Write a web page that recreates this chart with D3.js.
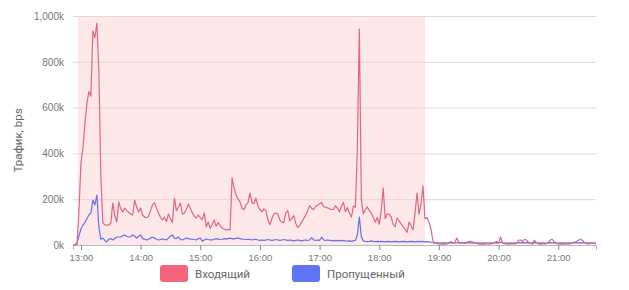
<!DOCTYPE html>
<html lang="ru">
<head>
<meta charset="UTF-8">
<script src="https://d3js.org/d3.v7.min.js"></script>
<style>
    body { margin: 0; background: #fff; }
    svg { font-family: Roboto, "Noto Sans", sans-serif; }
</style>
</head>
<body>
<div id="chart"></div>
<script>
    // series sampled every 2 minutes, starting 12:52 (values in bps)
    const startTime = "12:52";
    const stepMinutes = 2;
    const incoming = [
        0, 0, 0, 150, 358, 424, 530, 620, 670, 650, 935, 905, 969, 760, 300, 96, 88, 87, 87, 95,
        183, 130, 100, 188, 160, 144, 161, 150, 142, 135, 131, 196, 165, 144, 161, 130, 122, 119, 125, 150,
        175, 185, 160, 140, 120, 110, 122, 102, 135, 115, 98, 205, 150, 165, 183, 135, 140, 155, 178, 160,
        140, 125, 118, 131, 120, 110, 140, 80, 100, 72, 90, 109, 82, 98, 85, 74, 70, 66, 68, 66,
        293, 250, 218, 200, 188, 160, 155, 175, 185, 227, 185, 180, 205, 170, 155, 145, 158, 150, 110, 88,
        115, 135, 140, 135, 110, 100, 98, 140, 150, 105, 115, 128, 95, 76, 85, 100, 115, 130, 150, 172,
        160, 155, 168, 175, 180, 186, 168, 165, 162, 158, 155, 155, 172, 160, 145, 170, 186, 145, 164, 140,
        122, 170, 165, 420, 943, 200, 135, 155, 166, 150, 140, 120, 100, 120, 90, 150, 249, 115, 135, 135,
        122, 90, 80, 118, 105, 92, 80, 70, 55, 100, 85, 65, 140, 227, 135, 180, 258, 115, 120, 100,
        70, 18, 8, 6, 5, 4, 5, 4, 5, 8, 15, 8, 12, 30, 12, 8, 10, 6, 12, 15,
        16, 14, 10, 6, 5, 4, 5, 4, 5, 6, 5, 6, 12, 15, 8, 35, 10, 6, 5, 4,
        5, 6, 5, 6, 20, 22, 15, 25, 22, 12, 6, 5, 20, 10, 5, 4, 5, 6, 5, 10,
        22, 25, 15, 6, 5, 4, 5, 4, 5, 6, 5, 8, 12, 15, 20, 25, 22, 12, 6, 5,
        6, 10, 6, 5
    ].map(v => v * 1000);
    const passed = [
        0, 0, 10, 40, 70, 87, 98, 115, 131, 140, 196, 175, 218, 80, 25, 30, 20, 13, 25, 28,
        22, 28, 35, 35, 35, 40, 44, 38, 35, 36, 44, 40, 30, 38, 44, 28, 26, 22, 25, 30,
        35, 30, 25, 22, 24, 26, 25, 22, 30, 40, 44, 30, 28, 35, 25, 22, 26, 30, 28, 26,
        25, 24, 22, 28, 30, 17, 22, 26, 24, 22, 22, 25, 28, 26, 24, 25, 28, 26, 28, 30,
        28, 26, 30, 30, 28, 26, 25, 24, 25, 24, 22, 24, 25, 22, 20, 22, 20, 22, 24, 22,
        20, 22, 24, 22, 20, 22, 24, 22, 20, 22, 20, 18, 20, 22, 20, 18, 20, 22, 20, 22,
        32, 22, 20, 22, 20, 34, 22, 20, 22, 20, 20, 18, 20, 18, 20, 18, 20, 18, 17, 18,
        16, 18, 20, 45, 122, 35, 18, 16, 15, 16, 18, 16, 15, 16, 15, 16, 15, 14, 16, 15,
        14, 15, 16, 15, 14, 15, 16, 15, 14, 15, 16, 15, 14, 15, 16, 15, 16, 14, 15, 14,
        12, 10, 8, 10, 9, 8, 10, 9, 8, 9, 10, 9, 8, 10, 9, 8, 9, 10, 9, 10,
        9, 8, 9, 8, 9, 8, 9, 8, 9, 8, 9, 8, 9, 10, 9, 12, 9, 8, 9, 8,
        9, 8, 9, 8, 10, 9, 10, 9, 10, 9, 8, 9, 10, 9, 8, 9, 8, 9, 8, 9,
        10, 9, 10, 9, 8, 9, 8, 9, 8, 9, 8, 9, 9, 10, 9, 10, 9, 10, 9, 8,
        9, 9, 8, 8
    ].map(v => v * 1000);
    const highlightBand = ["12:57", "18:46"];
    const xDomain = ["12:52", "21:38"];
    const xTickLabels = ["13:00", "14:00", "15:00", "16:00", "17:00", "18:00", "19:00", "20:00", "21:00"];
    const yTicks = [0, 200000, 400000, 600000, 800000, 1000000];
    const seriesNames = ["Входящий", "Пропущенный"];
    const lineColors = ["#e4647b", "#6570e6"];
    const legendColors = ["#f4647c", "#5e74f4"];

    const width = 629, height = 290;
    const margin = {top: 16, right: 33, bottom: 45, left: 73};

    const parseTime = d3.timeParse("%H:%M");
    const t0 = parseTime(startTime);
    const times = incoming.map((d, i) => d3.timeMinute.offset(t0, i * stepMinutes));

    const svg = d3.select("#chart").append("svg")
        .attr("width", width)
        .attr("height", height);

    const x = d3.scaleTime()
        .domain(xDomain.map(parseTime))
        .range([margin.left, width - margin.right]);
    const y = d3.scaleLinear()
        .domain([0, 1000000])
        .range([height - margin.bottom, margin.top]);

    // highlighted period
    svg.append("rect")
        .attr("x", x(parseTime(highlightBand[0])))
        .attr("y", margin.top)
        .attr("width", x(parseTime(highlightBand[1])) - x(parseTime(highlightBand[0])))
        .attr("height", y(0) - margin.top)
        .attr("fill", "#fde8e9");

    // horizontal grid + y labels
    const yAxis = svg.append("g")
        .attr("transform", `translate(${margin.left},0)`)
        .call(d3.axisLeft(y)
            .tickValues(yTicks)
            .tickSize(-(width - margin.left - margin.right))
            .tickPadding(9)
            .tickFormat(d => d3.format(",")(d / 1000) + "k"));
    yAxis.select(".domain").remove();
    yAxis.selectAll(".tick line").attr("stroke", "#e2d6d8").attr("stroke-width", 1);
    yAxis.selectAll(".tick text")
        .attr("fill", "#777")
        .style("font-size", "10px");

    // x axis
    const xAxis = svg.append("g")
        .attr("transform", `translate(0,${y(0)})`)
        .call(d3.axisBottom(x)
            .tickValues(xTickLabels.map(parseTime))
            .tickSize(5)
            .tickPadding(4)
            .tickFormat(d3.timeFormat("%H:%M")));
    xAxis.select(".domain").attr("stroke", "#bbb");
    xAxis.selectAll(".tick line").attr("stroke", "#888");
    xAxis.selectAll(".tick text")
        .attr("fill", "#777")
        .style("font-size", "9.5px");

    // lines
    const line = d3.line()
        .x((d, i) => x(times[i]))
        .y(d => y(d));

    [passed, incoming].forEach((series, k) => {
        svg.append("path")
            .datum(series)
            .attr("fill", "none")
            .attr("stroke", lineColors[1 - k])
            .attr("stroke-width", 1.2)
            .attr("stroke-linejoin", "round")
            .attr("d", line);
    });

    // y axis title
    svg.append("text")
        .attr("transform", `translate(22,${(margin.top + y(0)) / 2 + 10}) rotate(-90)`)
        .attr("text-anchor", "middle")
        .attr("fill", "#666")
        .style("font-size", "11.5px")
        .text("Трафик, bps");

    // legend
    const legendX = [160, 292];
    const legend = svg.append("g").attr("transform", "translate(0,265)");
    seriesNames.forEach((name, i) => {
        legend.append("rect")
            .attr("x", legendX[i])
            .attr("y", 0)
            .attr("width", 28)
            .attr("height", 17)
            .attr("rx", 3)
            .attr("fill", legendColors[i]);
        legend.append("text")
            .attr("x", legendX[i] + 35)
            .attr("y", 12.5)
            .attr("fill", "#666")
            .style("font-size", "11.5px")
            .text(name);
    });
</script>
</body>
</html>
